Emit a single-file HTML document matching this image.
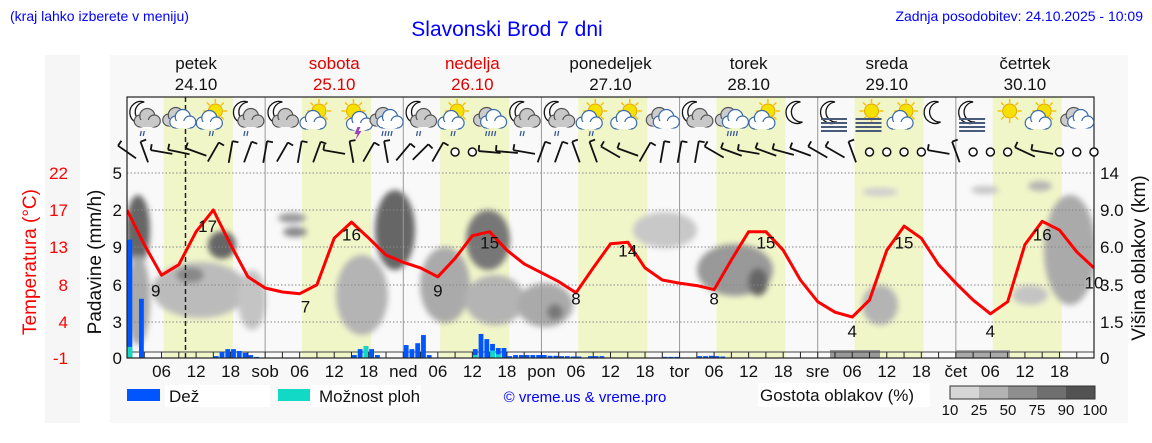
<!DOCTYPE html>
<html><head><meta charset="utf-8">
<style>
html,body{margin:0;padding:0;background:#fff;}
svg{display:block;font-family:"Liberation Sans",sans-serif;}
</style></head>
<body>
<svg id="chart" width="1152" height="443" viewBox="0 0 1152 443">
<defs>
<filter id="blur" x="-30%" y="-30%" width="160%" height="160%"><feGaussianBlur stdDeviation="3"/></filter>
<clipPath id="plotclip"><rect x="127" y="97" width="967" height="261"/></clipPath>
</defs>
<rect x="45" y="55" width="35" height="368" fill="#f6f6f6"/>
<rect x="110" y="55" width="1018" height="368" fill="#f8f8f8"/>
<text x="10" y="21" font-size="14" fill="#0000ff">(kraj lahko izberete v meniju)</text>
<text x="507" y="36" font-size="21" fill="#0000ff" text-anchor="middle">Slavonski Brod 7 dni</text>
<text x="1143" y="21" font-size="14" fill="#0000ff" text-anchor="end">Zadnja posodobitev: 24.10.2025 - 10:09</text>
<g id="plot"></g>
<g id="overlay"></g>
</svg>
<script>
const dayNames = ["petek","sobota","nedelja","ponedeljek","torek","sreda","četrtek"];
const dayDates = ["24.10","25.10","26.10","27.10","28.10","29.10","30.10"];
const dayRed = [false,true,true,false,false,false,false];
const dayAbbr = ["sob","ned","pon","tor","sre","čet"];
const tempTicks = [22,17,13,8,4,-1];
const precipTicks = ["5","2","9","6","3","0"];
const heightTicks = ["14","9.0","6.0","3.5","1.5","0"];
const tempHours = [0,3,6,9,12,15,18,21,24,27,30,33,36,39,42,45,48,51,54,57,60,63,66,69,72,75,78,81,84,87,90,93,96,99,102,105,108,111,114,117,120,123,126,129,132,135,138,141,144,147,150,153,156,159,162,165,168];
const tempValues = [17.4,13.1,9.3,10.6,14.7,17.4,13.1,9.1,7.7,7.2,7.0,8.1,13.9,15.9,13.9,11.8,10.9,10.2,9.1,11.4,14.2,14.7,12.4,10.7,9.6,8.5,7.1,10.2,13.2,13.4,10.2,8.7,8.3,8.0,7.5,11.2,14.7,14.7,12.4,8.7,6.0,4.7,4.1,6.2,12.4,15.4,13.9,10.6,8.3,6.2,4.5,6.0,13.1,16.0,14.9,12.2,10.2];
const tempLabelHours = [5,14,31,39,54,63,78,87,102,111,126,135,150,159,168];
const tempLabelValues = [9,17,7,16,9,15,8,14,8,15,4,15,4,16,10];
const precipHours = [0,2,15,16,17,18,19,20,21,22,39,40,41,42,43,48,49,50,51,52,60,61,62,63,64,65,66,67,68,69,70,71,72,73,74,75,76,77,78,80,81,82,93,94,95,99,100,101,102,103];
const precipValues = [3.2,1.6,0.05,0.16,0.24,0.24,0.19,0.14,0.08,0.03,0.08,0.24,0.32,0.24,0.08,0.35,0.24,0.4,0.62,0.08,0.24,0.65,0.51,0.38,0.27,0.27,0.05,0.08,0.08,0.08,0.08,0.08,0.08,0.06,0.06,0.05,0.05,0.04,0.04,0.05,0.05,0.05,0.03,0.03,0.03,0.05,0.05,0.06,0.05,0.04];
const showerHours = [0,41,60,63,64];
const showerValues = [0.3,0.32,0.08,0.2,0.1];
const iconTypes = ["moonrain","cloud","sunrain","moonrain","mooncloud","suncloud","thunder","cloudrain","moonrain","sunrain","cloudrain","moonrain","moonrain","sunrain","suncloud","cloud","mooncloud","cloudrain","suncloud","moon","fogmoon","fogsun","suncloud","moon","fogmoon","sun","suncloud","cloud"];
const windAngles = [-55,-20,-80,-78,-70,30,10,20,10,30,10,20,-80,-10,30,-10,40,45,30,999,999,-85,-85,-80,20,20,-20,-20,-60,-70,30,10,10,10,-60,-70,-80,-70,-75,-70,-60,-60,-20,999,999,999,999,-80,-20,999,999,999,-65,-80,999,999,999];

const NS="http://www.w3.org/2000/svg";
const X0=127, X1=1094, Y0=97, YB=358, HOURS=168;
const xH = h => X0 + (X1-X0)*h/HOURS;
const yT = t => YB - (t+1)*(185/23);
const yP = p => YB - p*37;
const plot=document.getElementById('plot');
function mk(tag, attrs, parent){const e=document.createElementNS(NS,tag);for(const k in attrs)e.setAttribute(k,attrs[k]);(parent||plot).appendChild(e);return e;}

let bg=mk('rect',{x:X0,y:Y0,width:X1-X0,height:YB-Y0,fill:'#f9f9f9'});


for(let d=0;d<7;d++){
  let r=mk('rect',{x:xH(d*24+6.4),y:Y0,width:xH(12)-xH(0),height:YB-Y0,fill:'#f1f6c9'});
  
  
}
const blobs=[[138,230,12,35,'#666'],[138,300,12,45,'#aaa'],[200,290,48,28,'#bbb'],[190,275,14,8,'#888'],[222,245,14,14,'#666'],[252,300,14,30,'#c4c4c4'],[292,218,14,5,'#999'],[295,232,12,5,'#888'],[362,295,26,40,'#b4b4b4'],[395,230,20,40,'#666'],[445,285,25,38,'#aaa'],[488,240,22,30,'#777'],[495,300,30,25,'#b4b4b4'],[545,305,28,22,'#aaa'],[555,312,8,8,'#777'],[665,230,32,18,'#c8c8c8'],[735,270,38,26,'#999'],[758,282,10,14,'#666'],[880,305,18,20,'#b4b4b4'],[880,192,18,4,'#ccc'],[985,190,14,4,'#c4c4c4'],[1040,186,12,5,'#b4b4b4'],[1070,250,26,55,'#aaa'],[1030,295,18,10,'#c4c4c4']];
const cg=mk('g',{'clip-path':'url(#plotclip)',filter:'url(#blur)'});


blobs.forEach(b=>{let e=mk('ellipse',{cx:b[0],cy:b[1],rx:b[2],ry:b[3],fill:b[4]},cg);});
let lc1=mk('rect',{x:830,y:350,width:50,height:8,fill:'#999'});
let lc2=mk('rect',{x:956,y:350,width:54,height:8,fill:'#aaa'});
[173,210,247,285,322].forEach(y=>{let l=mk('line',{x1:X0,x2:X1,y1:y,y2:y,stroke:'#888','stroke-dasharray':'1.5,2','stroke-width':1});});
for(let d=1;d<7;d++){let l=mk('line',{x1:xH(d*24),x2:xH(d*24),y1:Y0,y2:YB,stroke:'#999','stroke-width':1});}
mk('line',{x1:X0,x2:X1,y1:352,y2:352,stroke:'#444','stroke-width':1});
precipHours.forEach((h,i)=>{
  let r=mk('rect',{x:xH(h)+0.5,y:yP(precipValues[i]),width:4.8,height:YB-yP(precipValues[i]),fill:'#0055ff'});
  
  
});
showerHours.forEach((h,i)=>{
  let r=mk('rect',{x:xH(h)+0.5,y:yP(showerValues[i]),width:4.8,height:YB-yP(showerValues[i]),fill:'#11d9c6'});
  
  
});
let now=mk('line',{x1:185.5,x2:185.5,y1:Y0,y2:YB,stroke:'#222','stroke-dasharray':'5,3','stroke-width':1.5});


let pts=tempHours.map((h,i)=>xH(h).toFixed(1)+','+yT(tempValues[i]).toFixed(1)).join(' ');
let tl=mk('polyline',{points:pts,fill:'none',stroke:'#ff0000','stroke-width':3,'stroke-linejoin':'round','clip-path':'url(#plotclip)'});


tempLabelHours.forEach((h,i)=>{
  let t=mk('text',{x:xH(h),y:yT(tempLabelValues[i])+19,'font-size':17,'text-anchor':'middle',fill:'#111'});
  t.textContent=tempLabelValues[i];
  
  
});
let fr=mk('rect',{x:X0,y:Y0,width:X1-X0,height:YB-Y0,fill:'none',stroke:'#222','stroke-width':1.2});


for(let h=3;h<HOURS;h+=3){mk('line',{x1:xH(h),x2:xH(h),y1:YB,y2:YB-6,stroke:'#222','stroke-width':1});}
for(let d=0;d<7;d++){
  [6,12,18,24].forEach(hh=>{
    const h=d*24+hh; if(h>=HOURS) return;
    let t=mk('text',{x:xH(h),y:377,'font-size':17,'text-anchor':'middle',fill:'#111'});
    t.textContent = hh===24 ? dayAbbr[d] : String(hh).padStart(2,'0');
    
    
  });
  let n=mk('text',{x:xH(d*24+12),y:69,'font-size':17,'text-anchor':'middle',fill:dayRed[d]?'#e00000':'#111'});
  n.textContent=dayNames[d];
  
  
  let dt=mk('text',{x:xH(d*24+12),y:90,'font-size':17,'text-anchor':'middle',fill:dayRed[d]?'#e00000':'#111'});
  dt.textContent=dayDates[d];
  
  
}
const tickY=[173,210,247,285,322,358];
tempTicks.forEach((v,i)=>{let t=mk('text',{x:68,y:tickY[i]+6,'font-size':17,'text-anchor':'end',fill:'#ff0000'});t.textContent=v;});
precipTicks.forEach((v,i)=>{let t=mk('text',{x:122,y:tickY[i]+6,'font-size':17,'text-anchor':'end',fill:'#111'});t.textContent=v;});
heightTicks.forEach((v,i)=>{let t=mk('text',{x:1100,y:tickY[i]+6,'font-size':17,fill:'#111'});t.textContent=v;});
let at1=mk('text',{x:0,y:0,'font-size':19,'text-anchor':'middle',fill:'#ff0000',transform:'translate(36,262) rotate(-90)'});at1.textContent='Temperatura (°C)';
let at2=mk('text',{x:0,y:0,'font-size':19,'text-anchor':'middle',fill:'#111',transform:'translate(101,262) rotate(-90)'});at2.textContent='Padavine (mm/h)';
let at3=mk('text',{x:0,y:0,'font-size':19,'text-anchor':'middle',fill:'#111',transform:'translate(1145,258) rotate(-90)'});at3.textContent='Višina oblakov (km)';
function cloud(g,cx,cy,fill,stroke){
  mk('circle',{cx:cx-6,cy:cy+2,r:6,fill:fill,stroke:stroke,'stroke-width':1.2},g);
  mk('circle',{cx:cx+1,cy:cy-3,r:7.5,fill:fill,stroke:stroke,'stroke-width':1.2},g);
  mk('circle',{cx:cx+8,cy:cy+2,r:6,fill:fill,stroke:stroke,'stroke-width':1.2},g);
  mk('rect',{x:cx-6,y:cy+1,width:14,height:7,fill:fill},g);
}
function sun(g,cx,cy){
  for(let a=0;a<360;a+=45){const r=a*Math.PI/180;mk('line',{x1:cx+Math.cos(r)*8,y1:cy+Math.sin(r)*8,x2:cx+Math.cos(r)*12,y2:cy+Math.sin(r)*12,stroke:'#f5c400','stroke-width':1.5},g);}
  mk('circle',{cx:cx,cy:cy,r:7,fill:'#f5e000',stroke:'#e8a800','stroke-width':1},g);
}
function moon(g,cx,cy){mk('path',{d:`M${cx+4},${cy-11} A11,11 0 1,0 ${cx+6},${cy+9} A9,9 0 1,1 ${cx+4},${cy-11}Z`,fill:'#fff',stroke:'#111','stroke-width':1.3},g);}
function rain(g,cx,cy,n){for(let i=0;i<n;i++)mk('line',{x1:cx-3+i*3,y1:cy,x2:cx-4+i*3,y2:cy+5,stroke:'#3a5a9a','stroke-width':1.3},g);}
function fog(g,cx,cy){for(let i=0;i<4;i++)mk('line',{x1:cx-14,x2:cx+12,y1:cy+i*4,y2:cy+i*4,stroke:'#4a5a7a','stroke-width':2},g);}
iconTypes.forEach((tp,i)=>{
  const cx=xH(3+6*i), cy=115;
  const g=mk('g',{});
  
  
  if(tp.startsWith('moon')||tp==='fogmoon') moon(g,cx-4,cy-2);
  if(tp.startsWith('sun')||tp==='thunder'||tp==='fogsun') sun(g,cx+2,cy-4);
  if(tp==='moonrain'||tp==='mooncloud') {cloud(g,cx+2,cy+4,'#c8c8c8','#555');}
  if(tp==='cloud'||tp==='cloudrain'){cloud(g,cx-4,cy+3,'#ccc','#555');cloud(g,cx+3,cy+5,'#fff','#3a6aaa');}
  if(tp==='sunrain'||tp==='suncloud'){cloud(g,cx-5,cy+6,'#fff','#3a6aaa');}
  if(tp==='thunder'){cloud(g,cx+7,cy+7,'#fff','#3a6aaa');mk('path',{d:`M${cx+6},${cy+12} l-3,7 h3 l-2,6 l6,-9 h-3 l2,-4z`,fill:'#a040c0'},g);}
  if(tp.endsWith('rain')) rain(g,cx,cy+16,tp==='cloudrain'?4:2);
  if(tp.startsWith('fog')) fog(g,cx,cy+4);
});
windAngles.forEach((a,i)=>{
  const cx=xH(i*3), cy=152;
  if(cx>X1+2) return;
  const g=mk('g',{});
  
  
  if(a===999){mk('circle',{cx:cx,cy:cy,r:4,fill:'#fff',stroke:'#111','stroke-width':1.5},g);return;}
  const r=a*Math.PI/180, dx=Math.sin(r)*11, dy=-Math.cos(r)*11;
  mk('line',{x1:cx-dx,y1:cy-dy,x2:cx+dx,y2:cy+dy,stroke:'#111','stroke-width':1.8},g);
  mk('line',{x1:cx+dx,y1:cy+dy,x2:cx+dx+Math.cos(r)*6,y2:cy+dy+Math.sin(r)*6,stroke:'#111','stroke-width':1.8},g);
});
const lg=mk('g',{});


mk('rect',{x:127,y:389,width:33,height:12,fill:'#0055ff'},lg);
mk('rect',{x:165,y:385,width:105,height:22,fill:'#fff'},lg);
let l1=mk('text',{x:169,y:402,'font-size':17,fill:'#111'},lg);l1.textContent='Dež';
mk('rect',{x:278,y:389,width:32,height:12,fill:'#11d9c6'},lg);
mk('rect',{x:311,y:385,width:110,height:22,fill:'#fff'},lg);
let l2=mk('text',{x:319,y:402,'font-size':17,fill:'#111'},lg);l2.textContent='Možnost ploh';
let cp=mk('text',{x:585,y:402,'font-size':15,'text-anchor':'middle',fill:'#0000ff'});cp.textContent='© vreme.us & vreme.pro';
mk('rect',{x:758,y:383,width:172,height:24,fill:'#fff'},lg);
let l3=mk('text',{x:760,y:401,'font-size':17,fill:'#111'},lg);l3.textContent='Gostota oblakov (%)';
const shades=['#d6d6d6','#b2b2b2','#8e8e8e','#6f6f6f','#525252'];
const shadeLabels=['10','25','50','75','90','100'];
shades.forEach((c,i)=>{let r=mk('rect',{x:950+i*29,y:386,width:29,height:13,fill:c},lg);});
mk('rect',{x:950,y:386,width:145,height:13,fill:'none',stroke:'#333','stroke-width':1},lg);
shadeLabels.forEach((s,i)=>{let t=mk('text',{x:950+i*29,y:415,'font-size':15,'text-anchor':'middle',fill:'#111'},lg);t.textContent=s;});
</script>
</body></html>
